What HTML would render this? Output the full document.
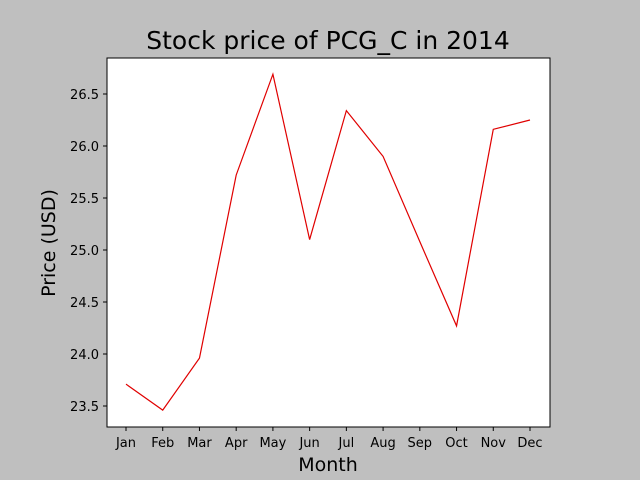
<!DOCTYPE html>
<html><head><meta charset="utf-8"><style>
body{margin:0;background:#bfbfbf;}
svg{display:block;font-family:"DejaVu Sans","Liberation Sans",sans-serif;}
</style></head><body>
<svg id="chart" width="640" height="480">
<rect x="0" y="0" width="640" height="480" fill="#bfbfbf"/>
<text x="328" y="49" font-size="25" text-anchor="middle">Stock price of PCG_C in 2014</text>
<rect x="107" y="58" width="443" height="369" fill="#fff" stroke="#000" stroke-width="1"/>
<g id="xticks"></g>
<g id="yticks"></g>
<path id="line" fill="none" stroke="#e00000" stroke-width="1.2"/>
<text x="328" y="471" font-size="19" text-anchor="middle">Month</text>
<text x="55" y="243" font-size="19" text-anchor="middle" transform="rotate(-90 55 243)">Price (USD)</text>
</svg>
<script>
const months=["Jan","Feb","Mar","Apr","May","Jun","Jul","Aug","Sep","Oct","Nov","Dec"];
const prices=[23.71,23.46,23.96,25.72,26.69,25.10,26.34,25.90,25.08,24.27,26.16,26.25];
const yTicks=[23.5,24.0,24.5,25.0,25.5,26.0,26.5];
const NS="http://www.w3.org/2000/svg";
const x0=126,x1=530,yMin=23.298,yMax=26.846,plotTop=58,plotBot=427;
function xs(i){return x0+(x1-x0)*i/(months.length-1);}
function ys(v){return plotBot-(v-yMin)/(yMax-yMin)*(plotBot-plotTop);}
const gx=document.getElementById('xticks'),gy=document.getElementById('yticks');
months.forEach((m,i)=>{
 const l=document.createElementNS(NS,'line');
 l.setAttribute('x1',xs(i));l.setAttribute('x2',xs(i));l.setAttribute('y1',plotBot);l.setAttribute('y2',plotBot+4);l.setAttribute('stroke','#000');
 
 
 gx.appendChild(l);
 const t=document.createElementNS(NS,'text');
 t.setAttribute('x',xs(i));t.setAttribute('y',plotBot+20);t.setAttribute('font-size','13');t.setAttribute('text-anchor','middle');t.textContent=m;
 
 
 gx.appendChild(t);
});
yTicks.forEach(v=>{
 const l=document.createElementNS(NS,'line');
 l.setAttribute('x1',103);l.setAttribute('x2',107);l.setAttribute('y1',ys(v));l.setAttribute('y2',ys(v));l.setAttribute('stroke','#000');
 
 
 gy.appendChild(l);
 const t=document.createElementNS(NS,'text');
 t.setAttribute('x',99);t.setAttribute('y',ys(v)+5);t.setAttribute('font-size','13');t.setAttribute('text-anchor','end');t.textContent=v.toFixed(1);
 
 
 gy.appendChild(t);
});
document.getElementById('line').setAttribute('d',prices.map((p,i)=>(i?'L':'M')+xs(i)+' '+ys(p)).join(' '));
</script>
</body></html>
